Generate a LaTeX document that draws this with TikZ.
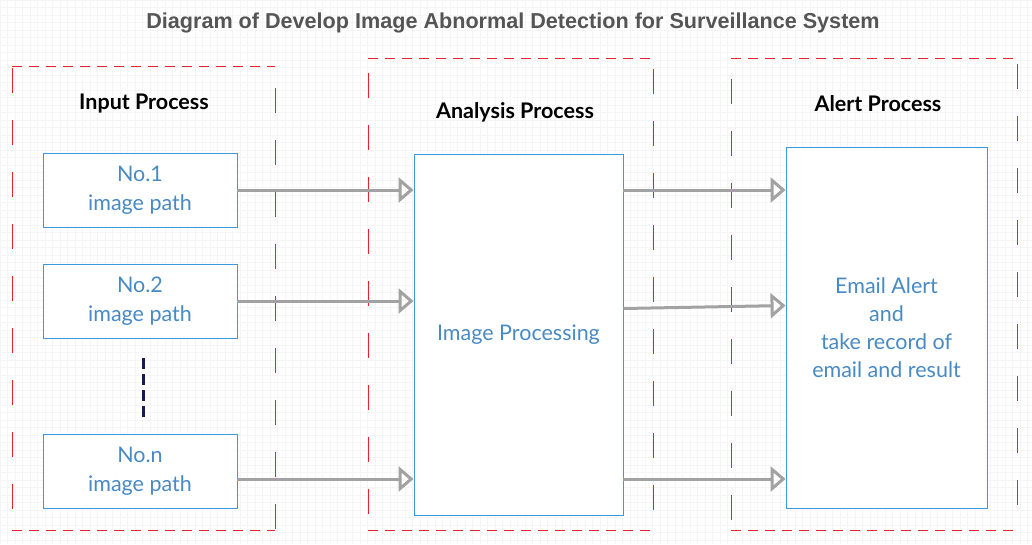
\documentclass[tikz,border=0pt]{standalone}
\usepackage{fontspec}
\setmainfont{Lato}
\newfontfamily\titlefont{Liberation Sans}
\usetikzlibrary{arrows.meta,calc,positioning}
\definecolor{grpred}{RGB}{232,34,44}
\definecolor{boxblue}{RGB}{58,152,222}
\definecolor{txtblue}{RGB}{72,138,196}
\definecolor{arrgray}{RGB}{162,162,162}
\definecolor{dotnavy}{RGB}{22,28,82}
\definecolor{titlegray}{RGB}{85,85,85}

\begin{document}
\begin{tikzpicture}[x=1pt, y=-1pt,
      gridline/.style={draw=black!4, line width=0.4pt},
      hdash/.style={draw=grpred, line width=1pt, dash pattern=on 10pt off 7pt},
      vdash/.style={draw=grpred, line width=1pt, dash pattern=on 25pt off 27pt},
      grouptitle/.style={font=\fontsize{21.5}{25}\selectfont\bfseries, text=black},
      pathbox/.style={draw=boxblue, fill=white, line width=0.9pt, minimum width=194pt, minimum height=74pt, align=center, text=txtblue, font=\fontsize{21.5}{29}\selectfont},
      bigbox/.style={draw=boxblue, fill=white, line width=0.9pt, minimum height=361pt, align=center, text=txtblue, font=\fontsize{21.5}{28}\selectfont},
      flowarrow/.style={draw=arrgray, line width=3pt, -{Triangle[open, length=15pt, width=25pt, line width=3pt]}}
    ]
      \useasboundingbox (0,0) rectangle (1032,544);
      \fill[white] (0,0) rectangle (1032,544);
      \draw[gridline] (0,0) grid[step=7.5pt] (1032,544);

      % Title
      \node[font=\titlefont\fontsize{21.6}{25}\selectfont\bfseries, text=titlegray] (title) at (513,23) {Diagram of Develop Image Abnormal Detection for Surveillance System};

      % Group frames
      \draw[hdash] (12,66) -- (275,66) (12,530) -- (275,530);
      \draw[vdash, dash phase=50pt] (12,66) -- (12,530);
      \draw[vdash, dash phase=30pt] (275,66) -- (275,530);
      \draw[hdash] (368,58) -- (653,58) (368,530) -- (653,530);
      \draw[vdash, dash phase=37pt] (368,58) -- (368,530);
      \draw[vdash, dash phase=41pt] (653,58) -- (653,530);
      \draw[hdash] (731,58) -- (1017,58) (731,530) -- (1017,530);
      \draw[vdash, dash phase=31pt] (731,58) -- (731,530);
      \draw[vdash, dash phase=46pt] (1017,58) -- (1017,530);

      % Group titles
      \node[grouptitle] (intitle) at (144,104) {Input Process};
      \node[grouptitle] (antitle) at (515,112) {Analysis Process};
      \node[grouptitle] (altitle) at (878,104) {Alert Process};

      % Input Process
      \node[pathbox] (n1) at (140,190) {No.1\\image path};
      \node[pathbox] (n2) at (140,301) {No.2\\image path};
      \node[pathbox] (nn) at (140,471) {No.n\\image path};
      \draw[dotnavy, line width=3pt, dash pattern=on 11pt off 5pt] ([shift={(3,20)}]n2.south) -- ([shift={(3,-16)}]nn.north);

      % Analysis Process
      \node[bigbox, minimum width=209pt] (proc) at (518.5,334.5) {Image Processing};

      % Alert Process
      \node[bigbox, minimum width=201pt] (alert) at (886.5,327.5) {Email Alert\\and\\take record of\\email and result};

      % Arrows
      \coordinate (nnout) at ($(nn.east)+(0,8)$);
      \draw[flowarrow] (n1.east) -- (n1.east -| proc.west);
      \draw[flowarrow] (n2.east) -- (n2.east -| proc.west);
      \draw[flowarrow] (nnout) -- (nnout -| proc.west);
      \draw[flowarrow] (proc.east |- n1.east) -- (alert.west |- n1.east);
      \draw[flowarrow] ($(proc.east)+(0,-26)$) -- ($(alert.west)+(0,-22)$);
      \draw[flowarrow] (proc.east |- nnout) -- (alert.west |- nnout);
    \end{tikzpicture}
\end{document}
